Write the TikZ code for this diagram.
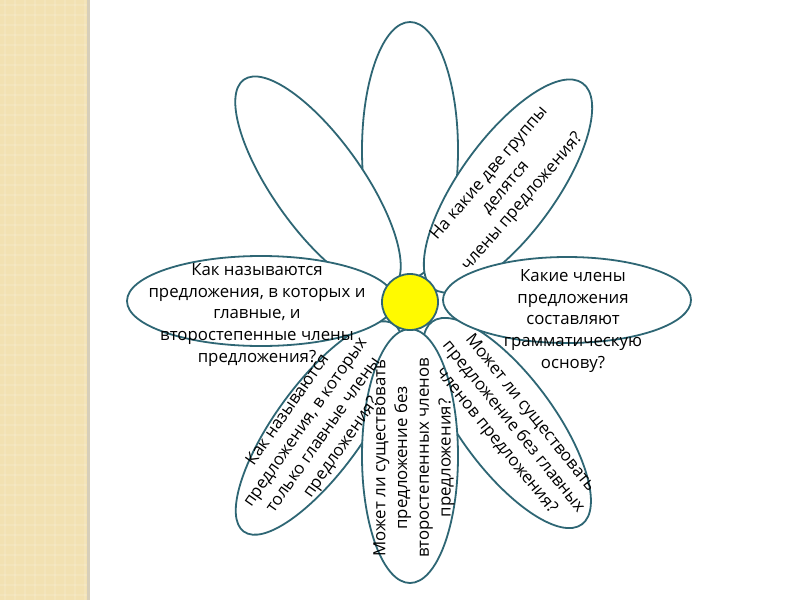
\documentclass[tikz,border=0pt]{standalone}
\usepackage{fontspec}
\setmainfont{Open Sans}
\definecolor{petalline}{RGB}{46,102,116}
\definecolor{stripbg}{RGB}{242,225,178}
\definecolor{stripedge}{RGB}{214,206,186}
\definecolor{centre}{RGB}{255,250,0}
\tikzset{
  petal/.style={draw=petalline, line width=1.8pt, fill=white},
  txt/.style={font=\fontsize{16.8}{21.8}\selectfont, align=center, inner sep=0pt, text=black}
}
\begin{document}
\begin{tikzpicture}[x=1pt,y=-1pt]
\useasboundingbox (0,0) rectangle (800,600);
\fill[white] (0,0) rectangle (800,600);
% left strip
\fill[stripbg] (0,0) rectangle (87,600);
\foreach \i in {5,15,...,595} {\draw[white, opacity=0.12, line width=2pt] (0,\i) -- (87,\i);}
\foreach \i in {5,15,...,85} {\draw[white, opacity=0.12, line width=2pt] (\i,0) -- (\i,600);}
\fill[stripedge] (87,0) rectangle (90,600);
% petals
\draw[petal, shift={(410,150)}] (0,0) ellipse [x radius=48pt, y radius=128pt];
\draw[petal, shift={(318,184)}, rotate=125.4] (0,0) ellipse [x radius=128pt, y radius=45pt];
\draw[petal, shift={(508,186)}, rotate=54.0] (0,0) ellipse [x radius=127pt, y radius=48pt];
\draw[petal, shift={(319,428)}, rotate=234.0] (0,0) ellipse [x radius=128pt, y radius=44pt];
\draw[petal, shift={(507,423)}, rotate=-53.5] (0,0) ellipse [x radius=126pt, y radius=47pt];
\draw[petal, shift={(410,456)}] (0,0) ellipse [x radius=48pt, y radius=127pt];
\draw[petal, shift={(261,301)}] (0,0) ellipse [x radius=134pt, y radius=45pt];
\draw[petal, shift={(567,300)}] (0,0) ellipse [x radius=124pt, y radius=43pt];
% centre
\node[circle, draw=petalline, line width=1.8pt, fill=centre, minimum size=56pt, inner sep=0pt] (c) at (410,302) {};
% texts
\node[txt, rotate=49.3] (t1) at (506,188) {На какие две группы\\делятся\\члены предложения?};
\node[txt] (t2) at (257,315) {Как называются\\предложения, в которых и\\главные, и\\второстепенные члены\\предложения?};
\node[txt] (t3) at (573,321) {Какие члены\\предложения\\составляют\\грамматическую\\основу?};
\node[txt, rotate=55] (t4) at (315,429) {Как называются\\предложения, в которых\\только главные члены\\предложения?};
\node[txt, rotate=90] (t5) at (414,458) {Может ли существовать\\предложение без\\второстепенных членов\\предложения?};
\node[txt, rotate=-51] (t6) at (513,427) {Может ли существовать\\предложение без главных\\членов предложения?};
\end{tikzpicture}
\end{document}
